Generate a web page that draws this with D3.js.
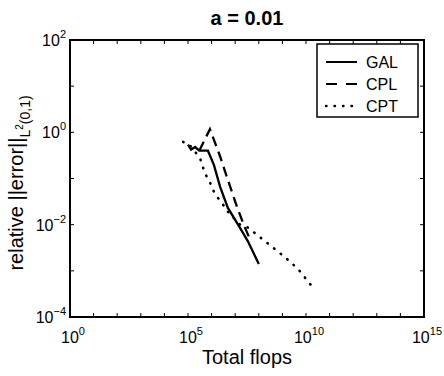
<!DOCTYPE html>
<html>
<head>
<meta charset="utf-8">
<script src="https://cdn.jsdelivr.net/npm/d3@7"></script>
<style>
  body { margin: 0; background: #fff; }
  svg { font-family: "Liberation Sans", Arial, sans-serif; }
</style>
</head>
<body>
<div id="chart"></div>
<script>
// values: [total flops, relative error]
const galData = [
  [1.0e5, 0.54], [1.35e5, 0.42], [2.0e5, 0.48], [3.0e5, 0.40], [7.0e5, 0.40],
  [1.26e6, 0.195], [2.3e6, 0.066], [4.9e6, 0.023], [1.6e7, 0.0085],
  [3.5e7, 0.0043], [1.0e8, 0.0014]
];
const cplData = [
  [3.0e5, 0.40], [8.5e5, 1.17], [2.3e6, 0.30], [4.9e6, 0.093],
  [1.2e7, 0.024], [2.3e7, 0.010], [4.3e7, 0.0047]
];
const cptData = [
  [6.2e4, 0.62], [1.3e5, 0.50], [3.2e5, 0.28], [5.2e5, 0.13], [8.5e5, 0.083],
  [1.15e6, 0.056], [1.7e6, 0.040], [2.75e6, 0.030], [4.1e6, 0.021],
  [1.6e7, 0.010], [3.2e7, 0.0089], [1.1e8, 0.0054], [4.0e8, 0.0032],
  [1.4e9, 0.0019], [4.6e9, 0.0011], [1.35e10, 0.00055], [2.2e10, 0.00041]
];
const series = [
  { name: 'GAL', data: galData, dash: null },
  { name: 'CPL', data: cplData, dash: '10,6' },
  { name: 'CPT', data: cptData, dash: '0.5,8' }
];
const xTicks = [1e0, 1e5, 1e10, 1e15];
const yTicks = [1e-4, 1e-2, 1e0, 1e2];

const width = 444, height = 376;
const margin = { top: 40, right: 20, bottom: 59, left: 70 };
const innerW = width - margin.left - margin.right;
const innerH = height - margin.top - margin.bottom;

const svg = d3.select('#chart').append('svg')
  .attr('width', width)
  .attr('height', height);

const x = d3.scaleLog().domain([1e0, 1e15]).range([0, innerW]);
const y = d3.scaleLog().domain([1e-4, 1e2]).range([innerH, 0]);

const g = svg.append('g')
  .attr('transform', 'translate(' + margin.left + ',' + margin.top + ')');

// minor ticks every decade, inward, on all four sides
const xMinor = d3.range(0, 16).map(e => Math.pow(10, e));
const yMinor = d3.range(-4, 3).map(e => Math.pow(10, e));
const tickLen = 4;
xMinor.forEach(v => {
  g.append('line').attr('x1', x(v)).attr('x2', x(v)).attr('y1', innerH).attr('y2', innerH - tickLen)
    .attr('stroke', '#000').attr('stroke-width', 1);
  g.append('line').attr('x1', x(v)).attr('x2', x(v)).attr('y1', 0).attr('y2', tickLen)
    .attr('stroke', '#000').attr('stroke-width', 1);
});
yMinor.forEach(v => {
  g.append('line').attr('x1', 0).attr('x2', tickLen).attr('y1', y(v)).attr('y2', y(v))
    .attr('stroke', '#000').attr('stroke-width', 1);
  g.append('line').attr('x1', innerW).attr('x2', innerW - tickLen).attr('y1', y(v)).attr('y2', y(v))
    .attr('stroke', '#000').attr('stroke-width', 1);
});

// tick labels as 10 with superscript exponent
const expOf = v => Math.round(Math.log10(v));
g.selectAll('.xlab')
  .data(xTicks)
  .enter().append('text')
  .attr('class', 'xlab')
  .attr('x', d => x(d) + 3)
  .attr('y', innerH + 26)
  .attr('text-anchor', 'middle')
  .attr('font-size', 16)
  .each(function(d) {
    const t = d3.select(this);
    t.append('tspan').text('10');
    t.append('tspan').attr('dy', -8).attr('font-size', 11).text(expOf(d));
  });

g.selectAll('.ylab')
  .data(yTicks)
  .enter().append('text')
  .attr('class', 'ylab')
  .attr('x', -4)
  .attr('y', d => y(d) + 6)
  .attr('text-anchor', 'end')
  .attr('font-size', 16)
  .each(function(d) {
    const t = d3.select(this);
    t.append('tspan').text('10');
    t.append('tspan').attr('dy', -8).attr('font-size', 11).text(expOf(d) < 0 ? '\u2212' + Math.abs(expOf(d)) : expOf(d));
  });

// box
g.append('rect')
  .attr('x', 0).attr('y', 0)
  .attr('width', innerW).attr('height', innerH)
  .attr('fill', 'none').attr('stroke', '#000').attr('stroke-width', 2);

// curves
const line = d3.line()
  .x(d => x(d[0]))
  .y(d => y(d[1]));

series.forEach(s => {
  g.append('path')
    .datum(s.data)
    .attr('d', line)
    .attr('fill', 'none')
    .attr('stroke', '#000')
    .attr('stroke-width', s.name === 'CPT' ? 2.6 : 2.3)
    .attr('stroke-linecap', s.name === 'CPT' ? 'round' : 'butt')
    .attr('stroke-dasharray', s.dash);
});

// legend
const lg = svg.append('g').attr('transform', 'translate(317,44)');
lg.append('rect')
  .attr('width', 101).attr('height', 73)
  .attr('fill', '#fff').attr('stroke', '#000').attr('stroke-width', 1.5);
series.forEach((s, i) => {
  const yy = 18 + i * 22;
  lg.append('line')
    .attr('x1', 9).attr('x2', 40).attr('y1', yy).attr('y2', yy)
    .attr('stroke', '#000').attr('stroke-width', s.name === 'CPT' ? 2.4 : 2)
    .attr('stroke-linecap', s.name === 'CPT' ? 'round' : 'butt')
    .attr('stroke-dasharray', s.name === 'CPL' ? '11,9' : s.dash);
  lg.append('text')
    .attr('x', 49).attr('y', yy + 6)
    .attr('font-size', 16)
    .text(s.name);
});

// title and axis labels
svg.append('text')
  .attr('x', margin.left + innerW / 2).attr('y', 25)
  .attr('text-anchor', 'middle')
  .attr('font-size', 20).attr('font-weight', 'bold')
  .text('a = 0.01');

svg.append('text')
  .attr('x', margin.left + innerW / 2).attr('y', 364)
  .attr('text-anchor', 'middle')
  .attr('font-size', 20)
  .text('Total flops');

const yl = svg.append('text')
  .attr('transform', 'translate(23,183) rotate(-90)')
  .attr('text-anchor', 'middle')
  .attr('font-size', 20);
yl.append('tspan').text('relative ||error||');
yl.append('tspan').attr('dy', 7).attr('font-size', 14).text('L');
yl.append('tspan').attr('dy', -7).attr('font-size', 10).text('2');
yl.append('tspan').attr('dy', 7).attr('font-size', 14).text('(0,1)');
</script>
</body>
</html>
